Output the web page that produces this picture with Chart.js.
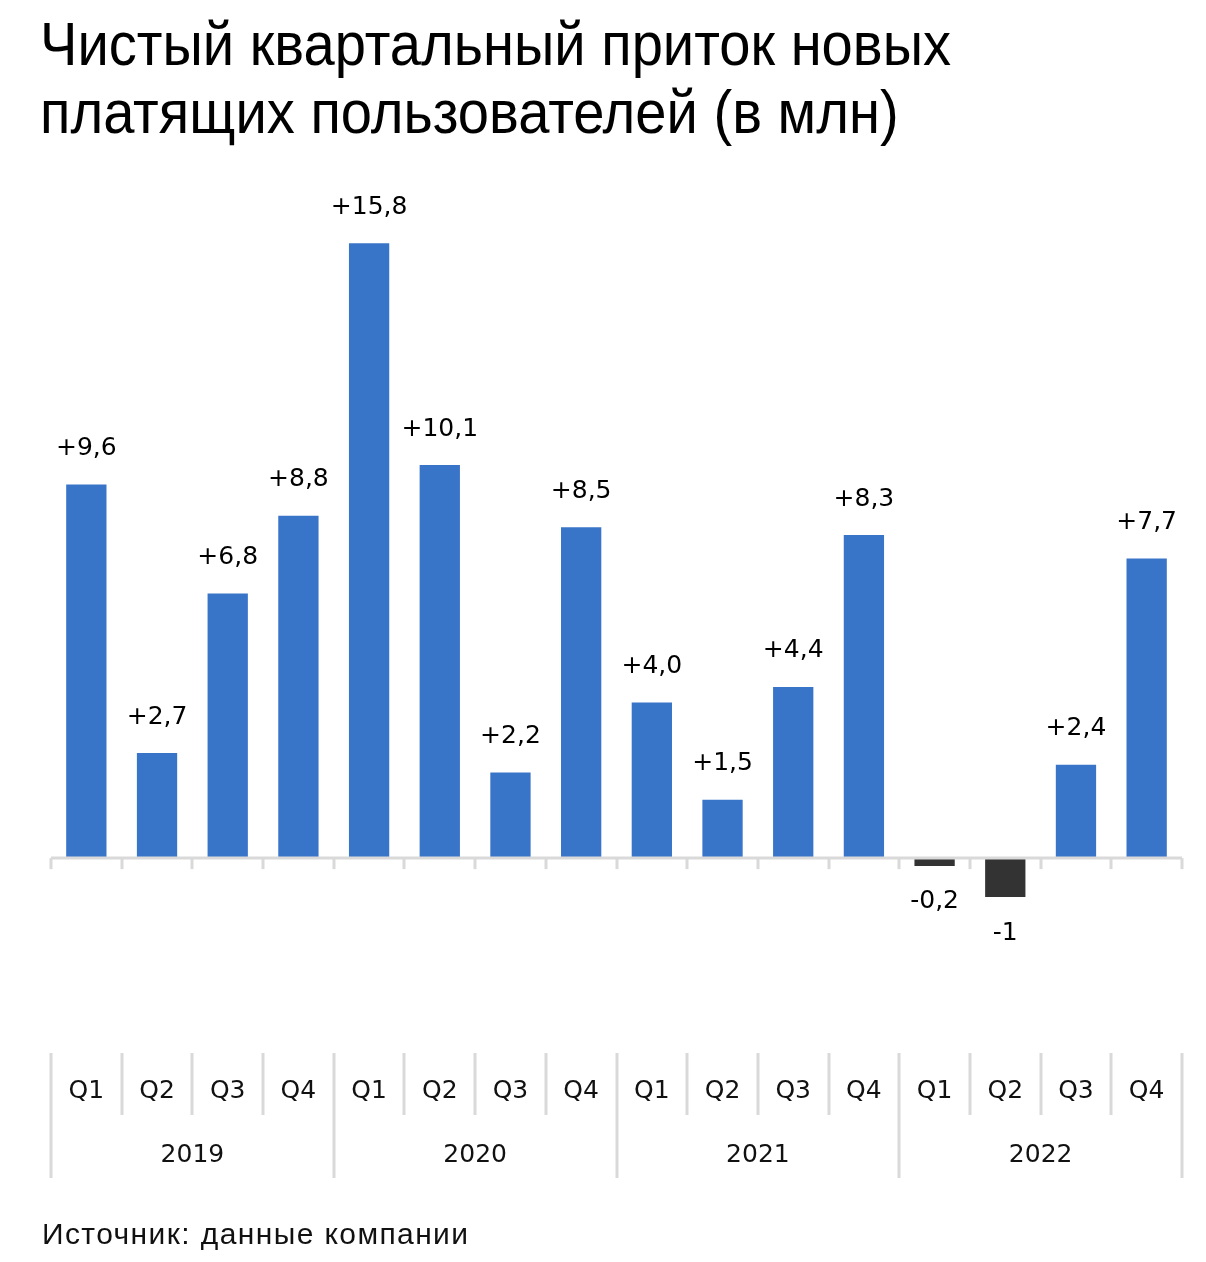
<!DOCTYPE html>
<html>
<head>
<meta charset="utf-8">
<script src="https://cdn.jsdelivr.net/npm/chart.js@4"></script>
<style>
  body { margin: 0; background: #fff; }
  #wrap { position: relative; width: 1206px; height: 1262px; }
  #chart { position: absolute; left: 0; top: 0; }
  h1 {
    position: absolute; left: 40px; top: 10px; margin: 0;
    font: 61px/68px "Liberation Sans Narrow", "Liberation Sans", sans-serif;
    color: #000; font-weight: normal; white-space: nowrap;
    transform: scaleX(0.92); transform-origin: left top;
  }
  .source {
    position: absolute; left: 42px; top: 1217px;
    font: 30px "Liberation Sans", sans-serif; color: #111; letter-spacing: 1.4px;
  }
</style>
</head>
<body>
<div id="wrap">
  <canvas id="chart" width="1206" height="1262"></canvas>
  <h1>Чистый квартальный приток новых<br>платящих пользователей (в млн)</h1>
  <div class="source">Источник: данные компании</div>
</div>
<script>
const quarters = ['Q1', 'Q2', 'Q3', 'Q4', 'Q1', 'Q2', 'Q3', 'Q4', 'Q1', 'Q2', 'Q3', 'Q4', 'Q1', 'Q2', 'Q3', 'Q4'];
const years = ['2019', '2020', '2021', '2022'];
const netAdds = [9.6, 2.7, 6.8, 8.8, 15.8, 10.1, 2.2, 8.5, 4.0, 1.5, 4.4, 8.3, -0.2, -1, 2.4, 7.7];
const valueLabels = ['+9,6', '+2,7', '+6,8', '+8,8', '+15,8', '+10,1', '+2,2', '+8,5', '+4,0', '+1,5', '+4,4', '+8,3', '-0,2', '-1', '+2,4', '+7,7'];

const blue = '#3874c8';
const dark = '#333333';
const lineGray = '#d9d9d9';

// zero axis, tick marks, two-level category labels and bar values
const decorations = {
  id: 'decorations',
  afterDatasetsDraw(chart) {
    const ctx = chart.ctx;
    const x = chart.scales.x;
    const y = chart.scales.y;
    const area = chart.chartArea;
    const zero = y.getPixelForValue(0);
    const step = x.getPixelForValue(1) - x.getPixelForValue(0);
    const edge = (i) => x.getPixelForValue(i) - step / 2;

    ctx.save();
    ctx.strokeStyle = lineGray;
    ctx.lineWidth = 3;
    ctx.beginPath();
    ctx.moveTo(area.left, zero);
    ctx.lineTo(area.right, zero);
    ctx.stroke();

    for (let i = 0; i <= quarters.length; i++) {
      const px = Math.round(edge(i));
      ctx.beginPath();
      ctx.moveTo(px, zero);
      ctx.lineTo(px, zero + 11);
      ctx.stroke();

      const bottom = i % 4 === 0 ? 1178 : 1115;
      ctx.beginPath();
      ctx.moveTo(px, 1053);
      ctx.lineTo(px, bottom);
      ctx.stroke();
    }

    ctx.fillStyle = '#111';
    ctx.textAlign = 'center';
    ctx.textBaseline = 'middle';
    ctx.font = '25px "DejaVu Sans", sans-serif';
    quarters.forEach((q, i) => {
      ctx.fillText(q, x.getPixelForValue(i), 1091);
    });
    years.forEach((yr, i) => {
      const mid = (edge(i * 4) + edge(i * 4 + 4)) / 2;
      ctx.fillText(yr, mid, 1155);
    });

    ctx.fillStyle = '#000';
    const meta = chart.getDatasetMeta(0);
    meta.data.forEach((bar, i) => {
      const v = netAdds[i];
      const py = v >= 0 ? y.getPixelForValue(v) - 36 : y.getPixelForValue(v) + 36;
      ctx.fillText(valueLabels[i], bar.x, py);
    });
    ctx.restore();
  }
};

new Chart(document.getElementById('chart'), {
  type: 'bar',
  data: {
    labels: quarters,
    datasets: [{
      data: netAdds,
      backgroundColor: netAdds.map((v) => v < 0 ? dark : blue),
      barPercentage: 0.57,
      categoryPercentage: 1
    }]
  },
  options: {
    responsive: false,
    animation: false,
    layout: { padding: { left: 51, right: 24, top: 181, bottom: 221 } },
    plugins: { legend: { display: false }, tooltip: { enabled: false } },
    scales: {
      x: { display: false },
      y: { display: false, min: -4.7, max: 17.4 }
    }
  },
  plugins: [decorations]
});
</script>
</body>
</html>
